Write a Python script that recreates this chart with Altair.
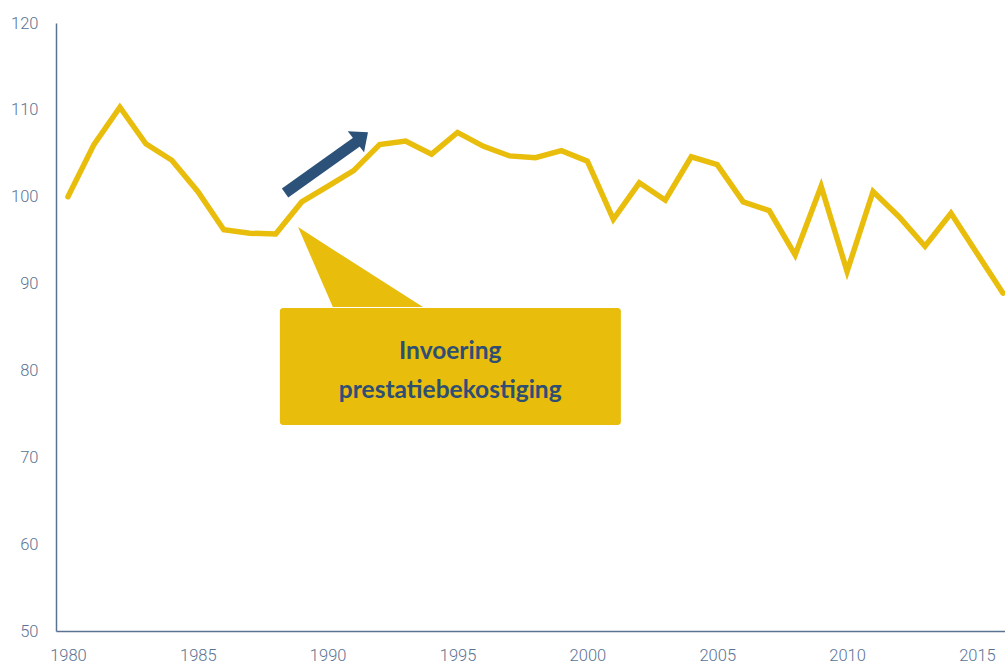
import altair as alt
import pandas as pd

years = list(range(1980, 2017))
values = [100.0, 106.0, 110.3, 106.1, 104.2, 100.6, 96.2, 95.8, 95.7, 99.4,
          101.2, 103.0, 106.0, 106.4, 104.9, 107.4, 105.8, 104.7, 104.5, 105.3,
          104.1, 97.4, 101.6, 99.6, 104.6, 103.7, 99.4, 98.4, 93.3, 101.2,
          91.4, 100.6, 97.7, 94.3, 98.1, 93.5, 88.9]

x_ticks = [1980, 1985, 1990, 1995, 2000, 2005, 2010, 2015]
y_ticks = [50, 60, 70, 80, 90, 100, 110, 120]

label_lines = ["Invoering", "prestatiebekostiging"]

# annotation geometry (data coordinates)
box = {"x": 1988.16, "x2": 2001.29, "y": 87.19, "y2": 73.72}
pointer_x = [1988.86, 1990.20, 1993.67]
pointer_top = [96.51, 93.93, 87.30]
pointer_bottom = [96.51, 87.30, 87.30]
label_x = [1994.72, 1994.72]
label_y = [82.1, 77.6]
arrow_shaft = {"x": 1988.36, "y": 100.43, "x2": 1991.17, "y2": 106.41}
arrow_head = {"x": 1991.32, "y": 106.87}

YELLOW = "#E9BD0C"
NAVY = "#2C5279"
AXIS = "#5B7393"

xs = alt.Scale(domain=[1979.54, 2016.08], nice=False, zero=False)
ys = alt.Scale(domain=[50, 120], nice=False, zero=False)

df = pd.DataFrame({"year": years, "value": values})

line = alt.Chart(df).mark_line(color=YELLOW, strokeWidth=5.5, strokeCap="round",
                               strokeJoin="miter").encode(
    x=alt.X("year:Q", scale=xs,
            axis=alt.Axis(values=x_ticks, format="d", title=None, ticks=False, grid=False,
                          domainColor=AXIS, domainWidth=1.5, labelColor=AXIS,
                          labelFont="Roboto", labelFontWeight=300, labelFontSize=16.5,
                          labelPadding=16)),
    y=alt.Y("value:Q", scale=ys,
            axis=alt.Axis(values=y_ticks, title=None, ticks=False, grid=False,
                          domainColor=AXIS, domainWidth=1.5, labelColor=AXIS,
                          labelFont="Roboto", labelFontWeight=300, labelFontSize=16.5,
                          labelPadding=18)),
)

box_df = pd.DataFrame([box])
rect = alt.Chart(box_df).mark_rect(color=YELLOW, cornerRadius=3).encode(
    x=alt.X("x:Q", scale=xs), x2="x2:Q",
    y=alt.Y("y:Q", scale=ys), y2="y2:Q")

ptr_df = pd.DataFrame({"x": pointer_x, "top": pointer_top, "bottom": pointer_bottom})
pointer = alt.Chart(ptr_df).mark_area(color=YELLOW, opacity=1).encode(
    x=alt.X("x:Q", scale=xs),
    y=alt.Y("top:Q", scale=ys), y2="bottom:Q")

txt_df = pd.DataFrame({"x": label_x, "y": label_y, "t": label_lines})
text = alt.Chart(txt_df).mark_text(font="Lato", fontWeight="bold", fontSize=24.5,
                                   color="#2E4E73", align="center", baseline="middle").encode(
    x=alt.X("x:Q", scale=xs), y=alt.Y("y:Q", scale=ys), text="t:N")

shaft = alt.Chart(pd.DataFrame([arrow_shaft])).mark_rule(
    color=NAVY, strokeWidth=11, strokeCap="butt").encode(
    x=alt.X("x:Q", scale=xs), x2="x2:Q",
    y=alt.Y("y:Q", scale=ys), y2="y2:Q")

head = alt.Chart(pd.DataFrame([arrow_head])).mark_point(
    shape="M0,-0.58L1,0.58L-1,0.58Z", filled=True, color=NAVY, opacity=1,
    size=700, angle=52).encode(
    x=alt.X("x:Q", scale=xs), y=alt.Y("y:Q", scale=ys))

chart = alt.layer(pointer, rect, text, line, shaft, head).properties(
    width=949, height=608,
    autosize=alt.AutoSizeParams(type="none"),
    padding={"left": 56, "top": 23, "right": 0, "bottom": 33},
    background="white",
).configure_view(stroke=None)

chart.save("out.html", embed_options={"renderer": "svg", "actions": False})
